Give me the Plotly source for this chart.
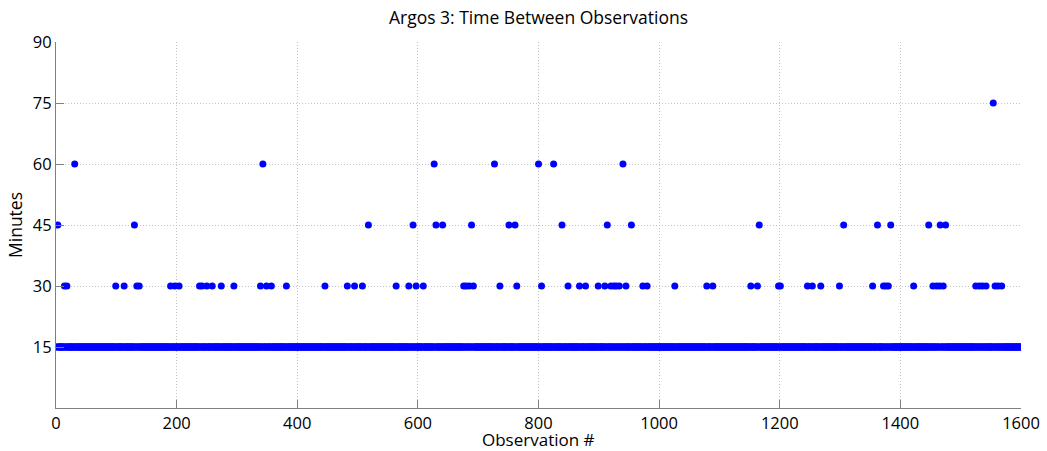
import plotly.graph_objects as go

n_obs = 1600
baseline_minutes = 15

# observation indices with longer gaps
obs_30 = [14, 18, 99, 113, 134, 138, 190, 197, 204, 238, 242, 250, 259, 274, 295,
          339, 349, 357, 382, 446, 483, 495, 508, 564, 585, 597, 609, 676, 680, 685,
          692, 736, 764, 805, 849, 868, 878, 899, 910, 920, 925, 929, 934, 945, 973,
          980, 1026, 1079, 1089, 1152, 1163, 1198, 1201, 1246, 1254, 1268, 1299, 1354,
          1372, 1376, 1380, 1422, 1454, 1460, 1465, 1471, 1525, 1531, 1536, 1542,
          1557, 1562, 1568]
obs_45 = [3, 130, 518, 592, 630, 641, 689, 751, 761, 839, 914, 954, 1166, 1306,
          1362, 1384, 1447, 1466, 1475]
obs_60 = [31, 343, 627, 727, 800, 825, 940]
obs_75 = [1554]

x_ticks = [0, 200, 400, 600, 800, 1000, 1200, 1400, 1600]
y_ticks = [15, 30, 45, 60, 75, 90]

minutes = {i: baseline_minutes for i in range(1, n_obs + 1)}
for lst, val in [(obs_30, 30), (obs_45, 45), (obs_60, 60), (obs_75, 75)]:
    for i in lst:
        minutes[i] = val

xs = list(minutes.keys())
ys = list(minutes.values())

fig = go.Figure(go.Scatter(
    x=xs, y=ys, mode="markers",
    marker=dict(color="#0000ff", size=7, line=dict(width=0)),
    hoverinfo="skip", showlegend=False,
))

FONT = "Open Sans, Liberation Sans, sans-serif"
axis_common = dict(
    showgrid=True, gridcolor="#c4c4c4", griddash="1px,2px", gridwidth=1,
    showline=True, linecolor="#808080", linewidth=1,
    ticks="inside", ticklen=8, tickcolor="#808080", tickwidth=1,
    zeroline=False, mirror=False, automargin=False,
    tickfont=dict(family=FONT, size=16.5, color="#000"),
)

fig.update_layout(
    width=1047, height=451,
    paper_bgcolor="white", plot_bgcolor="white",
    margin=dict(l=56, r=26, t=42, b=43, autoexpand=False),
    title=dict(text="Argos 3: Time Between Observations", x=0.5, xanchor="center",
               xref="paper", y=0.96, yanchor="middle",
               font=dict(family=FONT, size=17.5, color="#000")),
    xaxis=dict(range=[0, 1600], tickvals=x_ticks, **axis_common),
    yaxis=dict(range=[0, 90], tickvals=y_ticks,
               title=dict(text="Minutes", standoff=5,
                          font=dict(family=FONT, size=17.5, color="#000")),
               **axis_common),
    annotations=[dict(text="Observation #", xref="paper", yref="paper",
                      x=0.5, y=-0.087, xanchor="center", yanchor="middle",
                      showarrow=False,
                      font=dict(family=FONT, size=17, color="#000"))],
)

fig.write_html("out.html", config={"displayModeBar": False},
               post_script="document.body.style.margin='0';document.body.style.overflow='hidden';")
